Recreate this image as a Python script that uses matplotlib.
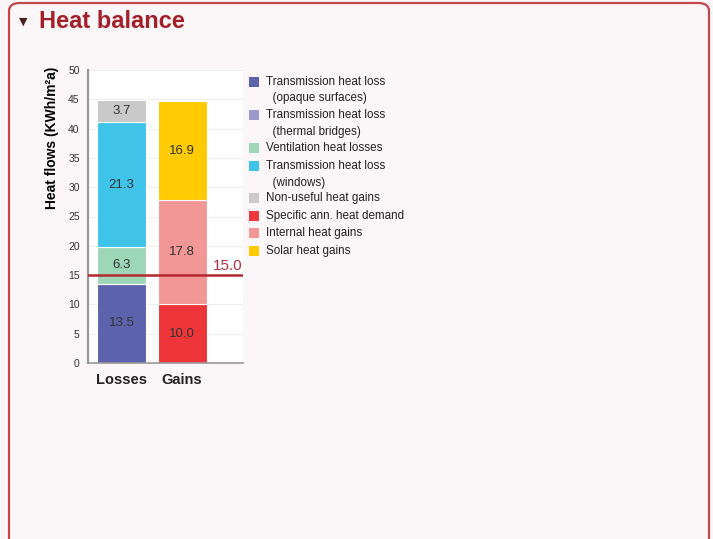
import numpy as np
import matplotlib
matplotlib.use("Agg")
import matplotlib.pyplot as plt
from matplotlib.patches import FancyBboxPatch, Rectangle

# data
categories = ["Losses", "Gains"]
loss_names = ["Transmission heat loss\n  (opaque surfaces)", "Transmission heat loss\n  (thermal bridges)",
              "Ventilation heat losses", "Transmission heat loss\n  (windows)", "Non-useful heat gains"]
loss_values = [13.5, 0.0, 6.3, 21.3, 3.7]
loss_colors = ["#5c62ac", "#9a98cc", "#9ed6b8", "#3fc3e8", "#c9c9c9"]
gain_names = ["Specific ann. heat demand", "Internal heat gains", "Solar heat gains"]
gain_values = [10.0, 17.8, 16.9]
gain_colors = ["#ee3539", "#f39696", "#fecb05"]
target = 15.0

W, H = 713, 539
fig = plt.figure(figsize=(W / 100, H / 100), dpi=100, facecolor="#fbf6f8")
plt.rcParams["font.family"] = ["Liberation Sans", "DejaVu Sans"]

# panel border
border = FancyBboxPatch((9 / W, -0.05), 700 / W, 1.05 - 3 / H,
                        boxstyle="round,pad=0,rounding_size=0.015",
                        transform=fig.transFigure, facecolor="none",
                        edgecolor="#c4474b", lw=1.6)
fig.patches.append(border)
fig.text(23 / W, 1 - 22 / H, "\u25BC", family="DejaVu Sans", fontsize=8,
         color="#4a2020", ha="center", va="center")
fig.text(39 / W, 1 - 21.5 / H, "Heat balance", fontsize=17, fontweight="bold",
         color="#a3202a", ha="left", va="center")

ax = fig.add_axes([88 / W, 1 - 363 / H, 155 / W, 293 / H])
ax.set_facecolor("white")
x = np.arange(len(categories))
bw = 0.81

def stack(xpos, vals, cols):
    bottom = 0.0
    for v, c in zip(vals, cols):
        if v > 0:
            ax.bar(xpos, v, bw, bottom=bottom, color=c, edgecolor="white", lw=0.8, zorder=2)
            ax.text(xpos, bottom + v / 2, f"{v:.1f}", ha="center", va="center",
                    fontsize=9.5, color="#333333", zorder=4)
        bottom += v

stack(x[0], loss_values, loss_colors)
stack(x[1], gain_values, gain_colors)

ax.axhline(target, color="#b22a30", lw=1.8, zorder=3)
ax.text(2.0, target + 0.4, f"{target:.1f}", ha="right", va="bottom",
        fontsize=11, color="#b03040", zorder=4)

ax.set_xlim(-0.554, 2.008)
ax.set_ylim(0, 50)
ax.set_yticks(np.arange(0, 51, 5))
ax.yaxis.grid(True, color="#eeeeee", lw=0.8, zorder=0)
ax.set_xticks(x)
ax.set_xticklabels(categories, fontsize=10.5, fontweight="bold", color="#222222")
ax.tick_params(axis="y", length=0, labelsize=7.5, labelcolor="#333333", pad=6)
ax.tick_params(axis="x", length=0, pad=7)
for s in ["top", "right"]:
    ax.spines[s].set_visible(False)
ax.spines["left"].set_color("#999999")
ax.spines["left"].set_linewidth(1.6)
ax.spines["bottom"].set_color("#999999")
ax.spines["bottom"].set_linewidth(1.2)
ax.set_ylabel("Heat flows (KWh/m\u00b2a)", fontsize=10, fontweight="bold", loc="top")
ax.yaxis.set_label_coords(-0.19, 1.01)

# legend
leg_names = loss_names[:4] + [loss_names[4], gain_names[0], gain_names[1], gain_names[2]]
leg_colors = loss_colors[:4] + [loss_colors[4]] + gain_colors
leg_y = [82, 115, 148, 166, 198, 216, 233, 251]
for name, c, yy in zip(leg_names, leg_colors, leg_y):
    fig.patches.append(Rectangle((249 / W, 1 - (yy + 5) / H), 10 / W, 10 / H,
                                 transform=fig.transFigure, facecolor=c, edgecolor="none"))
    fig.text(266 / W, 1 - (yy - 6) / H, name, fontsize=8.4, color="#222222",
             ha="left", va="top", linespacing=1.5)

fig.savefig("out.png", dpi=100, facecolor=fig.get_facecolor())
